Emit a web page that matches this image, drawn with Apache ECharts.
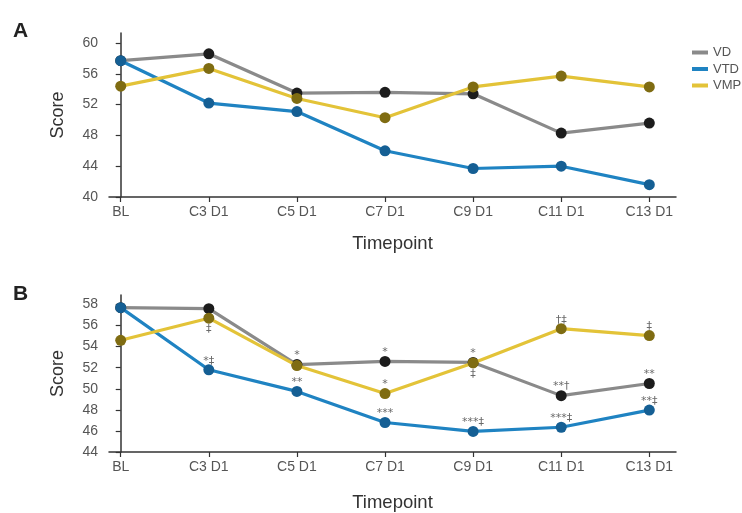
<!DOCTYPE html>
<html>
<head>
<meta charset="utf-8">
<script src="https://cdn.jsdelivr.net/npm/echarts@6/dist/echarts.min.js"></script>
<style>html,body{margin:0;padding:0;background:#fff;}#c{width:742px;height:513px;}</style>
</head>
<body>
<div id="c"></div>
<script>
var categories = ['BL', 'C3 D1', 'C5 D1', 'C7 D1', 'C9 D1', 'C11 D1', 'C13 D1'];
var seriesNames = ['VD', 'VTD', 'VMP'];

// Panel A
var vdA  = [57.7, 58.6, 53.5, 53.6, 53.4, 48.3, 49.6];
var vtdA = [57.7, 52.2, 51.1, 46.0, 43.7, 44.0, 41.6];
var vmpA = [54.4, 56.7, 52.8, 50.3, 54.3, 55.7, 54.3];
var yTicksA = [40, 44, 48, 52, 56, 60];

// Panel B
var vdB  = [57.7, 57.6, 52.3, 52.6, 52.5, 49.35, 50.5];
var vtdB = [57.7, 51.8, 49.75, 46.8, 45.95, 46.35, 47.98];
var vmpB = [54.6, 56.7, 52.2, 49.55, 52.45, 55.7, 55.05];
var yTicksB = [44, 46, 48, 50, 52, 54, 56, 58];

// Panel B significance annotations (above / below points)
var vdNotesB  = ['', '', '*', '*', '*', '**\u2020', '**'];
var vtdNotesB = ['', '*\u2021', '**', '***', '***\u2021', '***\u2021', '**\u2021'];
var vmpNotesAboveB = ['', '', '', '*', '', '\u2020\u2021', '\u2021'];
var vmpNotesBelowB = ['', '\u2021', '', '', '\u2021', '', ''];

var xIdx = categories.map(function (c, i) { return i; });
var FONT = 'Liberation Sans';

var colors = {
  VD:  { line: '#8a8a8a', mark: '#1c1c1c' },
  VTD: { line: '#1f83c2', mark: '#155f94' },
  VMP: { line: '#e3c338', mark: '#7f6c12' }
};

function pts(vals, notes, notesBelow) {
  return vals.map(function (v, i) {
    var item = { value: [i, v] };
    var txt = notes ? notes[i] : '';
    var below = notesBelow ? notesBelow[i] : '';
    if (txt || below) {
      item.label = {
        show: true,
        formatter: txt ? txt : below,
        position: txt ? 'top' : 'bottom',
        distance: txt ? -2 : 0,
        color: '#6a6a6a',
        fontSize: 11,
        fontFamily: 'DejaVu Sans'
      };
    }
    return item;
  });
}

function mkSeries(name, vals, gi, notes, notesBelow) {
  return {
    name: name,
    type: 'line',
    xAxisIndex: gi,
    yAxisIndex: gi,
    data: pts(vals, notes, notesBelow),
    symbol: 'circle',
    symbolSize: 11,
    lineStyle: { color: colors[name].line, width: 3.2 },
    itemStyle: { color: colors[name].mark },
    emphasis: { disabled: true },
    animation: false,
    z: name === 'VTD' ? 3 : (name === 'VD' ? 2 : 4)
  };
}

function xAxisDef(gi, gap) {
  return {
    type: 'value',
    gridIndex: gi,
    min: -0.133,
    max: 6.303,
    name: 'Timepoint',
    nameLocation: 'middle',
    nameGap: gap,
    nameTextStyle: { fontSize: 18.5, color: '#333', fontFamily: FONT },
    splitLine: { show: false },
    axisLine: { lineStyle: { color: '#333', width: 1.5 } },
    axisTick: { customValues: xIdx, length: 5, lineStyle: { color: '#333', width: 1.2 } },
    axisLabel: {
      customValues: xIdx,
      formatter: function (v) { return categories[Math.round(v)]; },
      fontSize: 14, color: '#555', margin: 8, fontFamily: FONT
    }
  };
}

function yAxisDef(gi, min, max, ticks) {
  return {
    type: 'value',
    gridIndex: gi,
    min: min,
    max: max,
    name: 'Score',
    nameLocation: 'middle',
    nameGap: 42,
    nameTextStyle: { fontSize: 18, color: '#333', fontFamily: FONT },
    splitLine: { show: false },
    axisLine: { show: true, lineStyle: { color: '#333', width: 1.5 } },
    axisTick: { show: true, customValues: ticks, length: 5, lineStyle: { color: '#333', width: 1.2 } },
    axisLabel: { customValues: ticks, fontSize: 14, color: '#555', margin: 11, fontFamily: FONT }
  };
}

var chart = echarts.init(document.getElementById('c'), null, { renderer: 'canvas' });
chart.setOption({
  backgroundColor: '#fff',
  animation: false,
  title: [
    { text: 'A', left: 8, top: 16, textStyle: { fontSize: 21, fontWeight: 'bold', color: '#222', fontFamily: FONT } },
    { text: 'B', left: 8, top: 279, textStyle: { fontSize: 21, fontWeight: 'bold', color: '#222', fontFamily: FONT } }
  ],
  legend: {
    orient: 'vertical',
    left: 687,
    top: 41,
    icon: 'rect',
    itemWidth: 16,
    itemHeight: 4,
    itemGap: 3.5,
    textStyle: { fontSize: 13, color: '#555', fontFamily: FONT },
    data: seriesNames.map(function (n) { return { name: n, itemStyle: { color: colors[n].line } }; })
  },
  grid: [
    { left: 109, right: 66, top: 33, bottom: 316 },
    { left: 109, right: 66, top: 295, bottom: 54 }
  ],
  xAxis: [xAxisDef(0, 37), xAxisDef(1, 41)],
  yAxis: [yAxisDef(0, 40, 61.3, yTicksA), yAxisDef(1, 44, 58.9, yTicksB)],
  series: [
    mkSeries('VD', vdA, 0),
    mkSeries('VTD', vtdA, 0),
    mkSeries('VMP', vmpA, 0),
    mkSeries('VD', vdB, 1, vdNotesB),
    mkSeries('VTD', vtdB, 1, vtdNotesB),
    mkSeries('VMP', vmpB, 1, vmpNotesAboveB, vmpNotesBelowB)
  ]
});
</script>
</body>
</html>
